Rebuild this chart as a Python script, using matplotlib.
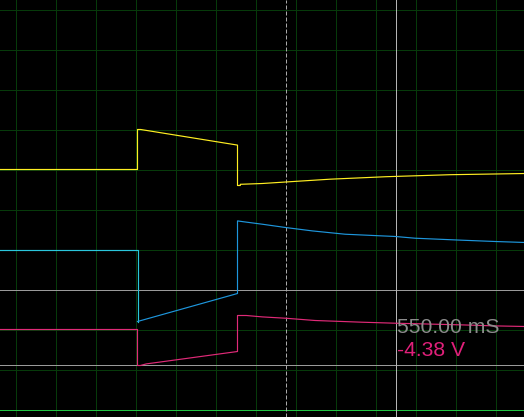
import matplotlib
matplotlib.use("Agg")
import matplotlib.pyplot as plt
from matplotlib.transforms import offset_copy

# ---- data (time in ms, amplitude in screen divisions) ----
yellow_t = [-1430, -740, -740, -724, -240, -240, -226, -226, -116, 24, 224, 504, 824, 1200]
yellow_v = [1.0, 1.0, 2.0, 2.0, 1.61, 0.6, 0.6, 0.63, 0.65, 0.695, 0.758, 0.82, 0.87, 0.9]

blue_pre_t = [-1430, -740, -740]
blue_pre_v = [-1.0, -1.0, -2.8]
blue_t = [-740, -240, -240, -212, -116, 0, 134, 298, 550, 648, 884, 1048, 1200]
blue_v = [-2.8, -2.1, -0.285, -0.305, -0.368, -0.45, -0.535, -0.618, -0.675, -0.718, -0.768, -0.8, -0.825]

pink_t = [-1430, -740, -740, -726, -696, -240, -240, -196, -116, 0, 148, 384, 550, 884, 1048, 1200]
pink_v = [-3.0, -3.0, -3.9, -3.9, -3.86, -3.55, -2.65, -2.65, -2.685, -2.718, -2.775, -2.818, -2.843, -2.885, -2.91, -2.925]

ref_levels = [-2.0, -3.875]
ground_level = -5.0

trigger_t = 0
cursor_t = 550
cursor_time_label = "550.00 mS"
cursor_volt_label = "-4.38 V"

x_grid = [-1350 + 200 * k for k in range(13)]
y_grid = list(range(-5, 6))

# ---- figure ----
fig = plt.figure(figsize=(5.24, 4.17), dpi=100, facecolor="black")
ax = fig.add_axes([0, 0, 1, 1], facecolor="black")
ax.set_xlim(-1427.5, 1192.5)
ax.set_ylim(-5.1875, 5.2375)
for s in ax.spines.values():
    s.set_visible(False)
ax.set_xticks([])
ax.set_yticks([])

px = 0.72  # one pixel in points at 100 dpi
grid_c = "#063a0a"
for gx in x_grid:
    ax.axvline(gx, color=grid_c, lw=px, zorder=1)
for gy in y_grid:
    ax.axhline(gy, color=grid_c, lw=px, zorder=1)

for lv in ref_levels:
    ax.axhline(lv, color="#9a9a9a", lw=px, zorder=2)
ax.axhline(ground_level, color="#22c444", lw=px, zorder=2)

ax.axvline(trigger_t, color="#a8a8a8", lw=px, dashes=(4, 2), zorder=2)
ax.axvline(cursor_t, color="#b4b4b4", lw=px, zorder=2)

tw = 0.85
ax.plot(yellow_t, yellow_v, color="#ffee22", lw=tw, zorder=4)
ax.plot(blue_pre_t, blue_pre_v, color="#2ac6dc", lw=tw, zorder=4)
ax.plot(blue_t, blue_v, color="#1e96dc", lw=tw, zorder=4)
ax.plot(pink_t, pink_v, color="#e02a78", lw=tw, zorder=4)

tr = offset_copy(ax.transData, fig=fig, x=1.5, y=0, units="dots")
ax.text(cursor_t, -3.085, cursor_time_label, transform=tr, color="#8c8c8c",
        fontsize=15.2, family="Liberation Sans", va="baseline", ha="left", zorder=5)
ax.text(cursor_t, -3.66, cursor_volt_label, transform=tr, color="#e0207a",
        fontsize=15.2, family="Liberation Sans", va="baseline", ha="left", zorder=5)

fig.savefig("out.png", dpi=100, facecolor="black")
